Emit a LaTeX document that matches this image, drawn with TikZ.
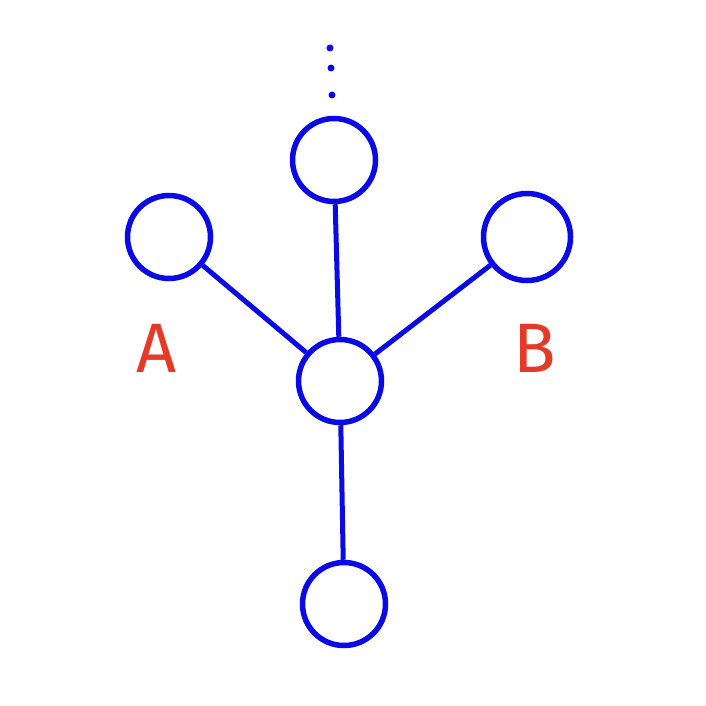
\documentclass[tikz,border=0pt]{standalone}
\usepackage{fontspec}
\setmainfont{Fira Sans}
\definecolor{myblue}{HTML}{0A0AE6}
\definecolor{myred}{HTML}{E63A28}
\begin{document}
\begin{tikzpicture}[x=1pt,y=-1pt,
  vtx/.style={circle,draw=myblue,line width=5.5pt,minimum size=83pt,inner sep=0pt},
  edge/.style={draw=myblue,line width=5pt},
  lbl/.style={text=myred,font=\fontsize{70}{70}\selectfont},
  dot/.style={fill=myblue,circle,inner sep=0pt,minimum size=7pt}]
\useasboundingbox (0,0) rectangle (705,706);
\node[vtx] (t) at (334,160) {};
\node[vtx] (l) at (169,237) {};
\node[vtx,minimum size=87pt] (r) at (527,237) {};
\node[vtx] (c) at (340,381) {};
\node[vtx] (b) at (344,604) {};
\draw[edge] (c) -- (l);
\draw[edge] (c) -- (t);
\draw[edge] (c) -- (r);
\draw[edge] (c) -- (b);
\node[dot] (d1) at (330,48) {};
\node[dot] (d2) at (331,68) {};
\node[dot] (d3) at (332,95) {};
\node[lbl] (A) at (157,348) {A};
\node[lbl] (B) at (535,348) {B};
\end{tikzpicture}
\end{document}
